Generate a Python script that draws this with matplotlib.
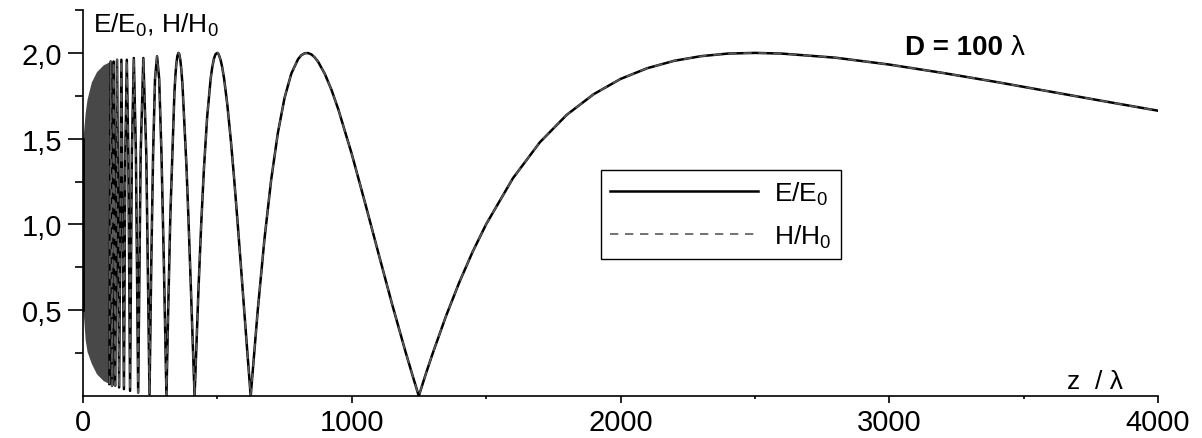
import numpy as np
import matplotlib
matplotlib.use('Agg')
import matplotlib.pyplot as plt
from matplotlib.ticker import FixedLocator

plt.rcParams['font.family'] = ['Liberation Sans', 'DejaVu Sans']
plt.rcParams['mathtext.default'] = 'regular'

# field along the axis (z in wavelengths)
z_vals = [98.2, 102.9, 108.1, 113.8, 120.0, 126.8, 134.4, 142.8,
          152.3, 157.4, 163.0, 168.8, 175.1, 181.8, 189.1, 196.9,
          205.3, 214.5, 224.5, 235.5, 247.5, 254.0, 260.8, 268.0, 275.5,
          283.5, 292.0, 301.0, 310.5, 317, 325, 340, 344, 347, 351, 355, 358, 362,
          366, 370, 385, 392, 400, 408, 415.2, 430, 440, 450, 462, 475, 481, 487,
          493, 500, 505, 512, 518, 525, 537, 550, 562, 575, 587, 600, 612, 624,
          650, 675, 700, 725, 750, 775, 800, 812, 825, 838, 850, 862, 875, 900,
          925, 950, 1000, 1050, 1100, 1150, 1200, 1225, 1249.5, 1275, 1300, 1350,
          1400, 1450, 1500, 1600, 1700, 1800, 1900, 2000, 2100, 2200, 2300,
          2400, 2500, 2600, 2800, 3000, 3200, 3400, 3600, 3800, 4000]
e_vals = [0.07, 1.95, 0.06, 1.95, 0.06, 1.96, 0.05, 1.96,
          0.04, 1.40, 1.96, 1.40, 0.03, 1.41, 1.97, 1.41,
          0.02, 1.41, 1.97, 1.41, 0.01, 0.765, 1.41, 1.848, 1.98,
          1.848, 1.41, 0.765, 0.0, 0.504, 1.052, 1.762, 1.871, 1.931, 1.981, 2.0, 1.994, 1.961,
          1.901, 1.818, 1.338, 1.050, 0.695, 0.327, 0.0, 0.635, 1.008, 1.326, 1.627, 1.850, 1.917, 1.965,
          1.992, 2.0, 1.991, 1.959, 1.916, 1.850, 1.698, 1.492, 1.274, 1.017, 0.769, 0.496, 0.245, 0.0,
          0.496, 0.912, 1.258, 1.533, 1.738, 1.879, 1.963, 1.986, 1.998, 1.999, 1.991, 1.974, 1.948, 1.877,
          1.783, 1.671, 1.411, 1.123, 0.828, 0.536, 0.258, 0.126, 0.0, 0.126, 0.243, 0.463,
          0.662, 0.841, 1.001, 1.270, 1.479, 1.639, 1.759, 1.848, 1.911, 1.954, 1.981,
          1.996, 2.0, 1.996, 1.972, 1.932, 1.883, 1.830, 1.774, 1.718, 1.663]
# H/H0 coincides with E/E0 on the axis
h_vals = e_vals

# dense oscillation zone near the aperture, drawn as a band
band_z = [0, 3, 8, 15, 31, 50, 75, 100, 118]
band_top = [1.50, 1.56, 1.65, 1.73, 1.83, 1.89, 1.93, 1.95, 1.955]
band_bot = [0.50, 0.44, 0.33, 0.26, 0.19, 0.13, 0.09, 0.07, 0.06]

x_ticks = [0, 1000, 2000, 3000, 4000]
y_ticks = [0.5, 1.0, 1.5, 2.0]
y_ticklabels = ['0,5', '1,0', '1,5', '2,0']

fig = plt.figure(figsize=(12.02, 4.39), dpi=100)
ax = fig.add_axes([83 / 1202, 42 / 439, 1075 / 1202, 386 / 439])

ax.fill_between(band_z, band_bot, band_top, color='#484848', lw=0)
ax.plot([0, 0], [band_bot[0], band_top[0]], color='black', lw=2)
ax.plot(z_vals, e_vals, color='black', lw=1.8, label='E/E$_0$')
ax.plot(z_vals, h_vals, color='#5a5a5a', lw=1.2, dashes=(5, 4), label='H/H$_0$')

ax.set_xlim(0, 4000)
ax.set_ylim(0, 2.25)
for s in ['top', 'right']:
    ax.spines[s].set_visible(False)
for s in ['left', 'bottom']:
    ax.spines[s].set_linewidth(1.2)

ax.set_xticks(x_ticks)
ax.set_xticklabels([str(t) for t in x_ticks])
ax.xaxis.set_minor_locator(FixedLocator([500, 1500, 2500, 3500]))
ax.set_yticks(y_ticks)
ax.set_yticklabels(y_ticklabels)
ax.yaxis.set_minor_locator(FixedLocator([0.25, 0.75, 1.25, 1.75, 2.25]))
ax.tick_params(axis='x', which='major', length=5, width=1.2, labelsize=21, pad=4)
ax.tick_params(axis='x', which='minor', length=2, width=1.2)
ax.tick_params(axis='y', which='major', length=11, width=1.2, labelsize=21, pad=4)
ax.tick_params(axis='y', which='minor', length=5.5, width=1.2)

ax.text(0.009, 0.962, 'E/E$_0$, H/H$_0$', transform=ax.transAxes,
        fontsize=19, va='center', ha='left')
t = ax.text(0.765, 0.904, 'D = 100 ', transform=ax.transAxes,
            fontsize=20, fontweight='bold', va='center', ha='left')
ax.annotate('λ', xy=(1, 0), xycoords=t, fontsize=20, va='bottom', ha='left')
ax.text(0.915, 0.04, 'z  / λ', transform=ax.transAxes,
        fontsize=19, va='center', ha='left')

leg = ax.legend(loc='upper left', bbox_to_anchor=(0.482, 0.585), fontsize=19,
                handlelength=5.6, handletextpad=0.6, labelspacing=0.6,
                borderpad=0.35, borderaxespad=0, fancybox=False, framealpha=1,
                edgecolor='black')
leg.get_frame().set_linewidth(1.0)

fig.savefig('out.png', dpi=100)
